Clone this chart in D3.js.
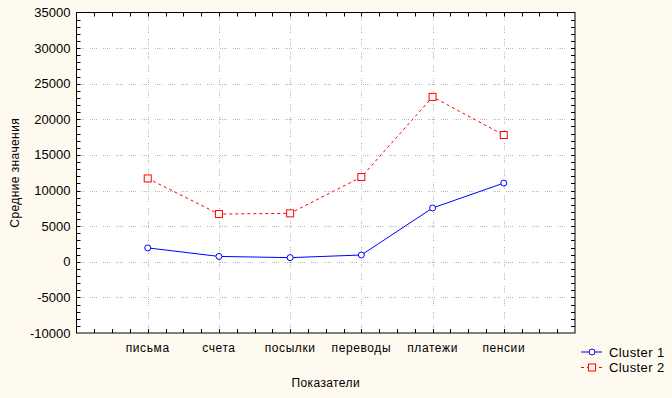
<!DOCTYPE html>
<html>
<head>
<meta charset="utf-8">
<script src="https://cdn.jsdelivr.net/npm/d3@7"></script>
<style>
  body { margin: 0; background: #fffaf0; }
  svg { display: block; font-family: "Liberation Sans", Arial, sans-serif; font-size: 12px; }
  .grid line { stroke: #b8b8b8; stroke-dasharray: 1,1,1,1,1,1,1,6; shape-rendering: crispEdges; }
</style>
</head>
<body>
<div id="chart"></div>
<script>
const categories = ["письма", "счета", "посылки", "переводы", "платежи", "пенсии"];
const cluster1 = [1950, 750, 580, 950, 7550, 11050];
const cluster2 = [11700, 6700, 6800, 11900, 23150, 17800];
const yTicks = [-10000, -5000, 0, 5000, 10000, 15000, 20000, 25000, 30000, 35000];

const width = 672, height = 398;
const margin = { top: 12.5, right: 97, bottom: 65, left: 76.5 };

const svg = d3.select("#chart").append("svg")
  .attr("width", width)
  .attr("height", height);

svg.append("rect").attr("width", width).attr("height", height).attr("fill", "#fffaf0");

const x = d3.scaleLinear().domain([0, categories.length + 1])
  .range([margin.left, width - margin.right]);
const y = d3.scaleLinear().domain([-10000, 35000])
  .range([height - margin.bottom, margin.top]);

// plot background
svg.append("rect")
  .attr("x", x(0)).attr("y", y(35000))
  .attr("width", x(7) - x(0)).attr("height", y(-10000) - y(35000))
  .attr("fill", "#fff");

// grid
const grid = svg.append("g").attr("class", "grid");
grid.selectAll(".gy").data(yTicks.slice(1, -1)).join("line")
  .attr("x1", x(0)).attr("x2", x(7))
  .attr("y1", d => Math.round(y(d)) + 0.5).attr("y2", d => Math.round(y(d)) + 0.5);
grid.selectAll(".gx").data(categories).join("line")
  .attr("x1", (d, i) => Math.round(x(i + 1)) + 0.5).attr("x2", (d, i) => Math.round(x(i + 1)) + 0.5)
  .attr("y1", y(35000)).attr("y2", y(-10000));

// frame
svg.append("rect")
  .attr("x", x(0)).attr("y", y(35000))
  .attr("width", x(7) - x(0)).attr("height", y(-10000) - y(35000))
  .attr("fill", "none").attr("stroke", "#000");

// minor ticks
const xMinor = d3.range(1, 28).map(d => d / 4);
const yMinor = d3.range(-9000, 35000, 1000);
const ticks = svg.append("g").attr("stroke", "#000");
xMinor.forEach(v => {
  const px = Math.round(x(v)) + 0.5;
  ticks.append("line").attr("x1", px).attr("x2", px).attr("y1", y(-10000)).attr("y2", y(-10000) - 4);
  ticks.append("line").attr("x1", px).attr("x2", px).attr("y1", y(35000)).attr("y2", y(35000) + 4);
});
yMinor.forEach(v => {
  const py = Math.round(y(v)) + 0.5;
  ticks.append("line").attr("y1", py).attr("y2", py).attr("x1", x(0)).attr("x2", x(0) + 4);
  ticks.append("line").attr("y1", py).attr("y2", py).attr("x1", x(7)).attr("x2", x(7) - 4);
});

// y axis labels
svg.append("g").selectAll("text").data(yTicks).join("text")
  .attr("x", x(0) - 6).attr("y", d => y(d)).attr("dy", "0.35em")
  .attr("text-anchor", "end").attr("font-size", 13).text(d => d);

// x axis labels
svg.append("g").selectAll("text").data(categories).join("text")
  .attr("x", (d, i) => x(i + 1)).attr("y", y(-10000) + 19)
  .attr("text-anchor", "middle").attr("letter-spacing", 0.6).text(d => d);

svg.append("text").attr("x", (x(0) + x(7)) / 2).attr("y", 387)
  .attr("text-anchor", "middle").attr("letter-spacing", 0.4).text("Показатели");

svg.append("text").attr("transform", `translate(19,${(y(35000) + y(-10000)) / 2}) rotate(-90)`)
  .attr("text-anchor", "middle").attr("letter-spacing", 0.4).text("Средние значения");

const line = d3.line().x((d, i) => x(i + 1)).y(d => y(d));

svg.append("path").datum(cluster2).attr("d", line)
  .attr("fill", "none").attr("stroke", "#f00").attr("stroke-dasharray", "3,3");
svg.append("path").datum(cluster1).attr("d", line)
  .attr("fill", "none").attr("stroke", "#00f");

svg.append("g").selectAll("rect").data(cluster2).join("rect")
  .attr("x", (d, i) => x(i + 1) - 3.5).attr("y", d => y(d) - 3.5)
  .attr("width", 7).attr("height", 7)
  .attr("fill", "#fff").attr("stroke", "#f00");
svg.append("g").selectAll("circle").data(cluster1).join("circle")
  .attr("cx", (d, i) => x(i + 1)).attr("cy", d => y(d)).attr("r", 3)
  .attr("fill", "#fff").attr("stroke", "#00f");

// legend
const legend = svg.append("g");
const series = [
  { name: "Cluster 1", color: "#00f", dash: null, shape: "circle" },
  { name: "Cluster 2", color: "#f00", dash: "3,3", shape: "rect" }
];
series.forEach((s, i) => {
  const ly = 352 + i * 15.5;
  legend.append("line").attr("x1", 581).attr("x2", 602).attr("y1", ly).attr("y2", ly)
    .attr("stroke", s.color).attr("stroke-dasharray", s.dash);
  if (s.shape === "circle") {
    legend.append("circle").attr("cx", 592).attr("cy", ly).attr("r", 3)
      .attr("fill", "#fffaf0").attr("stroke", s.color);
  } else {
    legend.append("rect").attr("x", 588.5).attr("y", ly - 3.5).attr("width", 7).attr("height", 7)
      .attr("fill", "#fffaf0").attr("stroke", s.color);
  }
  legend.append("text").attr("x", 609).attr("y", ly).attr("dy", "0.35em")
    .attr("font-size", 13).attr("letter-spacing", 0.4).text(s.name);
});
</script>
</body>
</html>
